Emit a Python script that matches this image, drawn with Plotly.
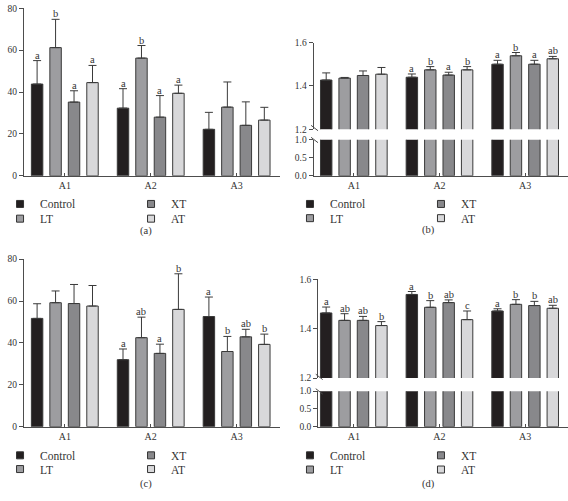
import plotly.graph_objects as go

W, H = 568, 501

groups = ["A1", "A2", "A3"]
series = ["Control", "LT", "XT", "AT"]
colors = ["#231f20", "#9d9da0", "#88888b", "#d8d8da"]

# Panel (a)
a_vals = [[43.8, 32.3, 22.2], [61.2, 56.2, 32.8], [35.2, 28.0, 24.1], [44.5, 39.4, 26.6]]
a_err = [[11.2, 9.3, 8.1], [13.5, 6.0, 12.0], [5.4, 10.3, 11.2], [8.2, 3.9, 6.1]]
a_let = [["a", "a", ""], ["b", "b", ""], ["a", "a", ""], ["a", "a", ""]]

# Panel (b)
b_vals = [[1.427, 1.440, 1.500], [1.436, 1.474, 1.539], [1.448, 1.450, 1.500], [1.454, 1.474, 1.525]]
b_err = [[0.033, 0.015, 0.018], [0.003, 0.015, 0.015], [0.021, 0.013, 0.018], [0.031, 0.015, 0.011]]
b_let = [["", "a", "a"], ["", "b", "b"], ["", "a", "a"], ["", "b", "ab"]]

# Panel (c)
c_vals = [[51.7, 32.0, 52.6], [59.2, 42.5, 35.9], [58.8, 35.0, 42.9], [57.6, 56.0, 39.3]]
c_err = [[7.0, 5.1, 9.3], [5.6, 9.8, 7.2], [9.1, 4.4, 3.6], [9.8, 17.0, 4.9]]
c_let = [["", "a", "a"], ["", "ab", "b"], ["", "a", "ab"], ["", "b", "b"]]

# Panel (d)
d_vals = [[1.464, 1.539, 1.472], [1.434, 1.487, 1.499], [1.434, 1.506, 1.494], [1.413, 1.437, 1.483]]
d_err = [[0.024, 0.012, 0.009], [0.027, 0.027, 0.019], [0.016, 0.011, 0.017], [0.016, 0.035, 0.012]]
d_let = [["a", "a", "a"], ["ab", "b", "b"], ["ab", "ab", "b"], ["b", "c", "ab"]]

SERIF = "Liberation Serif"
TXT = "#333333"
AX = "#4d4d4d"
BARGAP = 0.14


def px(xp):
    return xp / W


def py(yp):
    return 1 - yp / H


fig = go.Figure()

panels = [
    ("x", "y", None, a_vals, a_err, a_let, ("legend", "legend2")),
    ("x2", "y2", "y3", b_vals, b_err, b_let, ("legend3", "legend4")),
    ("x3", "y4", None, c_vals, c_err, c_let, ("legend5", "legend6")),
    ("x4", "y5", "y6", d_vals, d_err, d_let, ("legend7", "legend8")),
]

annotations = []
offsets = [-(1 - BARGAP) / 2 + (1 - BARGAP) / 4 * (j + 0.5) for j in range(4)]

for xa, ya, yt, vals, err, lets, lgs in panels:
    for j, s in enumerate(series):
        ebar = dict(type="data", symmetric=False, array=err[j], arrayminus=[0, 0, 0],
                    color="#3a3a3a", thickness=1, width=4)
        mk = dict(color=colors[j], line=dict(color="#3a3a3a", width=1))
        if yt is None:
            fig.add_trace(go.Bar(x=groups, y=vals[j], name=s, error_y=ebar, marker=mk,
                                 xaxis=xa, yaxis=ya, showlegend=False))
        else:
            # broken axis: lower part and upper part
            fig.add_trace(go.Bar(x=groups, y=vals[j], name=s, marker=mk,
                                 xaxis=xa, yaxis=ya, showlegend=False))
            fig.add_trace(go.Bar(x=groups, y=vals[j], name=s, error_y=ebar, marker=mk,
                                 xaxis=xa, yaxis=yt, showlegend=False))
        for i in range(3):
            if lets[j][i]:
                annotations.append(dict(
                    x=i + offsets[j], y=vals[j][i] + err[j][i],
                    xref=xa, yref=(yt or ya), text=lets[j][i], showarrow=False,
                    yanchor="bottom", xanchor="center", yshift=-2,
                    font=dict(family=SERIF, size=10.5, color=TXT)))
    # legend entries (row 1: Control, XT ; row 2: LT, AT)
    for j, s in enumerate(series):
        lg = lgs[0] if s in ("Control", "XT") else lgs[1]
        fig.add_trace(go.Scatter(x=[None], y=[None], mode="markers", name=s,
                                 marker=dict(symbol="square", size=7, color=colors[j],
                                             line=dict(color="#333333", width=1)),
                                 xaxis=xa, yaxis=ya, legend=lg, hoverinfo="skip",
                                 showlegend=True))

tickfont = dict(family=SERIF, size=9.5, color=TXT)
xtickfont = dict(family=SERIF, size=10, color=TXT)
xcommon = dict(type="category", showline=True, linecolor=AX, linewidth=1, ticks="inside",
               ticklen=3, tickcolor=AX, tickfont=xtickfont, showgrid=False, zeroline=False)
ycommon = dict(showline=True, linecolor=AX, linewidth=1, ticks="outside", ticklen=4,
               tickcolor=AX, tickfont=tickfont, showgrid=False, zeroline=False)

layout = dict(
    width=W, height=H, margin=dict(l=0, r=0, t=0, b=0),
    paper_bgcolor="white", plot_bgcolor="white",
    barmode="group", bargap=BARGAP, bargroupgap=0.38,
    xaxis=dict(xcommon, domain=[px(19), px(277)], anchor="y", range=[-0.477, 2.5]),
    yaxis=dict(ycommon, domain=[py(174.3), py(3.3)], anchor="x", range=[0, 80], dtick=20),
    xaxis2=dict(xcommon, domain=[px(311.3), 1], anchor="y2", range=[-0.47, 2.5]),
    yaxis2=dict(ycommon, domain=[py(174.3), py(137.5)], anchor="x2", range=[0, 1],
                tickvals=[0, 0.5, 1], tickformat=".1f"),
    yaxis3=dict(ycommon, domain=[py(126.8), py(38.3)], anchor="x2", range=[1.2, 1.6],
                tickvals=[1.2, 1.4, 1.6], tickformat=".1f"),
    xaxis3=dict(xcommon, domain=[px(19), px(277)], anchor="y4", range=[-0.477, 2.5]),
    yaxis4=dict(ycommon, domain=[py(430.3), py(259.3)], anchor="x3", range=[0, 80], dtick=20),
    xaxis4=dict(xcommon, domain=[px(316), 1], anchor="y5", range=[-0.415, 2.5]),
    yaxis5=dict(ycommon, domain=[py(430.3), py(394)], anchor="x4", range=[0, 1],
                tickvals=[0, 0.5, 1], tickformat=".1f"),
    yaxis6=dict(ycommon, domain=[py(380.7), py(280)], anchor="x4", range=[1.2, 1.6],
                tickvals=[1.2, 1.4, 1.6], tickformat=".1f"),
)

legfont = dict(family=SERIF, size=11.5, color=TXT)
leg_pos = {
    "legend": (-5, 203), "legend2": (-5, 218),
    "legend3": (287.5, 203), "legend4": (287.5, 217.5),
    "legend5": (-5, 459.5), "legend6": (-5, 473.5),
    "legend7": (287.5, 459.5), "legend8": (287.5, 474),
}
for name, (lx, ly) in leg_pos.items():
    layout[name] = dict(orientation="h", x=px(lx), y=py(ly), xanchor="left", yanchor="middle",
                        entrywidth=86, entrywidthmode="pixels", font=legfont,
                        bgcolor="rgba(0,0,0,0)", borderwidth=0, traceorder="normal")

# panel captions
for lab, (cx, cy) in {"(a)": (142, 230.7), "(b)": (427.3, 230), "(c)": (142, 489), "(d)": (427, 489)}.items():
    annotations.append(dict(x=px(cx), y=py(cy), xref="paper", yref="paper", text=lab,
                            showarrow=False, xanchor="center", yanchor="middle",
                            font=dict(family=SERIF, size=10.5, color=TXT)))

# axis break marks
shapes = []
for axx, y12, y10 in [(311.3, 126.8, 137.5), (316, 380.7, 394)]:
    for yy in (y12 - 1, y10 + 0.5):
        shapes.append(dict(type="line", xref="paper", yref="paper",
                           x0=px(axx - 2.5), y0=py(yy - 3), x1=px(axx + 4.5), y1=py(yy + 2.5),
                           line=dict(color=AX, width=1)))

layout["annotations"] = annotations
layout["shapes"] = shapes
fig.update_layout(**layout)
fig.write_html("out.html")
